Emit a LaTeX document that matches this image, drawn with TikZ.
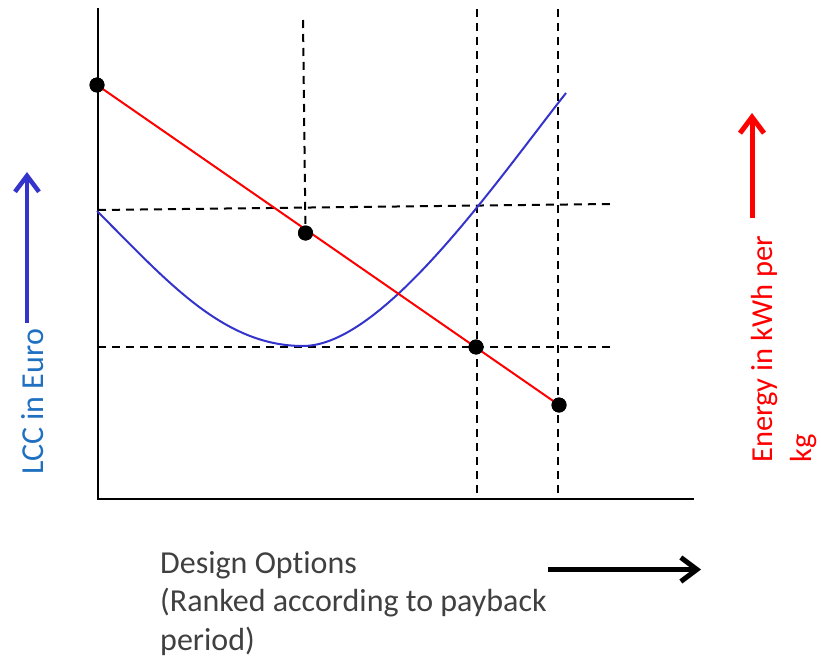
\documentclass[tikz,border=0pt]{standalone}
\usepackage{fontspec}
\setmainfont{Carlito}[Ligatures=NoCommon]
\usetikzlibrary{arrows.meta}
\definecolor{curveblue}{RGB}{52,52,204}
\definecolor{lccblue}{RGB}{31,112,193}
\definecolor{txtgray}{RGB}{64,64,64}
\tikzset{
  axisline/.style={line width=2.5pt, line cap=rect},
  guide/.style={line width=2pt, dashed, dash pattern=on 8pt off 6pt},
  dotnode/.style={circle, fill=black, inner sep=0pt, minimum size=15pt},
  bigarrow/.style={line width=5pt, -{Straight Barb[length=16pt,width=24pt]}},
  lbl/.style={font=\fontsize{32}{38.5}\selectfont, inner sep=0pt},
  sidelbl/.style={font=\fontsize{30.5}{39}\selectfont, inner sep=0pt}
}
\begin{document}
\begin{tikzpicture}[x=1pt,y=-1pt]
\useasboundingbox (0,0) rectangle (821,658);
% guide lines
\coordinate (v1t) at (303,20);
\coordinate (v2t) at (477,9);
\coordinate (v2b) at (477,495);
\coordinate (v3t) at (558,9);
\coordinate (v3b) at (558,495);
\coordinate (h1l) at (98,210);
\coordinate (h1r) at (610,204);
\coordinate (h2l) at (98,347);
\coordinate (h2r) at (610,347);
\node[dotnode] (d1) at (97,85) {};
\node[dotnode] (d2) at (305.5,233) {};
\node[dotnode] (d3) at (476,347) {};
\node[dotnode] (d4) at (559,405) {};
\draw[guide] (v1t) -- (d2.center);
\draw[guide] (v2t) -- (v2b);
\draw[guide] (v3t) -- (v3b);
\draw[guide] (h1l) -- (h1r);
\draw[guide] (h2l) -- (h2r);
% axes
\coordinate (ytop) at (98,9);
\coordinate (orig) at (98,499);
\coordinate (xend) at (693,499);
\draw[axisline] (ytop) -- (orig) -- (xend);
% blue LCC curve
\coordinate (c0) at (97,211);
\coordinate (cmin) at (303,346);
\coordinate (c1) at (566,93);
\draw[curveblue, line width=2pt] (c0) .. controls (167,281) and (223,346) .. (cmin)
  .. controls (383,346) and (496,182) .. (c1);
% red energy line
\draw[red, line width=2pt] (d1.center) -- (d4.center);
\node[dotnode] at (d1) {};
\node[dotnode] at (d2) {};
\node[dotnode] at (d3) {};
\node[dotnode] at (d4) {};
% side arrows
\coordinate (ba0) at (27,323);
\coordinate (ba1) at (27,172);
\draw[curveblue, bigarrow, line width=4.5pt] (ba0) -- (ba1);
\coordinate (ra0) at (752,218);
\coordinate (ra1) at (752,113);
\draw[red, bigarrow] (ra0) -- (ra1);
\coordinate (ka0) at (548,569.5);
\coordinate (ka1) at (701,569.5);
\draw[black, bigarrow] (ka0) -- (ka1);
% labels
\node[lbl, text=lccblue, rotate=90, anchor=base west] (lcc) at (43,475) {LCC in Euro};
\node[sidelbl, text=red, rotate=90, anchor=north west, align=left] (energy) at (751.5,463) {Energy in kWh per\\kg};
\node[lbl, text=txtgray, anchor=north west, align=left] (design) at (160,551) {Design Options\\(Ranked according to payback\\period)};
\end{tikzpicture}
\end{document}
